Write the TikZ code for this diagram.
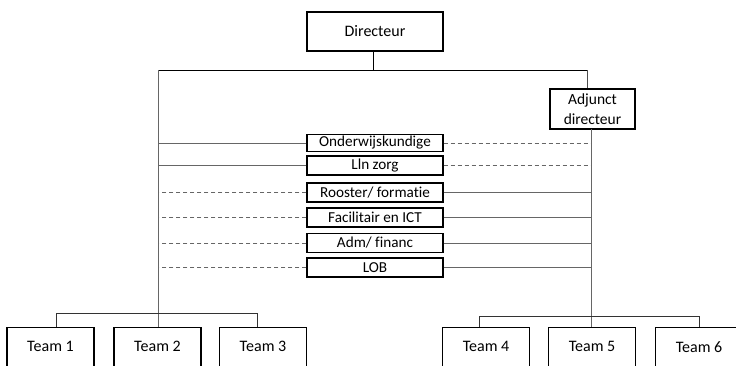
\documentclass[tikz,border=0pt]{standalone}
\usepackage{fontspec}
\setmainfont[Ligatures=NoCommon]{Carlito}
\begin{document}
\begin{tikzpicture}[x=1pt,y=-1pt,
  box/.style={draw=black,line width=1.4pt,inner sep=0pt,align=center,font=\fontsize{16}{20}\selectfont},
  mid/.style={box,minimum width=136pt,font=\fontsize{15.2}{18}\selectfont},
  team/.style={box,minimum width=87pt,minimum height=50pt,text depth=0pt},
  conn/.style={draw=black!60,line width=0.9pt},
  dconn/.style={conn,dash pattern=on 4pt off 3pt}]
\useasboundingbox (0,0) rectangle (736,365);
\clip (0,0) rectangle (736,365);
\node[box,minimum width=136pt,minimum height=39pt] (dir) at (375,31.5) {Directeur};
\node[box,minimum width=85pt,minimum height=40pt,font=\fontsize{15.5}{20}\selectfont] (adj) at (592.5,109) {Adjunct\\directeur};
\node[mid,minimum height=17pt] (m1) at (375,143) {Onderwijskundige};
\node[mid,minimum height=19pt] (m2) at (375,165.5) {Lln zorg};
\node[mid,minimum height=19pt] (m3) at (375,192.5) {Rooster/ formatie};
\node[mid,minimum height=19pt] (m4) at (375,217.5) {Facilitair en ICT};
\node[mid,minimum height=19pt] (m5) at (375,243) {Adm/ financ};
\node[mid,minimum height=19pt] (m6) at (375,267.5) {LOB};
\node[team,anchor=north] (t1) at (50.5,327) {\raisebox{12pt}{Team 1}};
\node[team,anchor=north] (t2) at (157.5,327) {\raisebox{12pt}{Team 2}};
\node[team,anchor=north] (t3) at (263,327) {\raisebox{12pt}{Team 3}};
\node[team,anchor=north] (t4) at (486,327) {\raisebox{12pt}{Team 4}};
\node[team,anchor=north] (t5) at (592,327) {\raisebox{12pt}{Team 5}};
\node[team,anchor=north] (t6) at (699,327) {\raisebox{12pt}{Team 6}};
\coordinate (L) at (158,70);
\coordinate (R) at (587,70);
\coordinate (A) at (591,129);
\coordinate (lb1) at (56,313);
\coordinate (lb3) at (257,313);
\coordinate (rb4) at (479,316);
\coordinate (rb6) at (699,316);
% top
\draw[black,line width=0.8pt] (dir.south -| 373,0) -- (373,70);
\draw[black,line width=0.8pt] (L) -- (R);
\draw[black!70,line width=0.9pt] (R) -- (R |- adj.north);
\draw[black!60,line width=1pt] (L) -- (L |- t2.north);
\draw[black!60,line width=1pt] (A) -- (A |- t5.north);
% brackets
\draw[black!80,line width=0.8pt] (lb1 |- t1.north) -- (lb1) -- (lb3) -- (lb3 |- t3.north);
\draw[black!80,line width=0.8pt] (rb4 |- t4.north) -- (rb4) -- (rb6) -- (rb6 |- t6.north);
% left connectors
\draw[conn] (m1.west) -- (m1.west -| L);
\draw[conn] (m2.west) -- (m2.west -| L);
\draw[dconn] (m3.west) -- (m3.west -| L);
\draw[dconn] (m4.west) -- (m4.west -| L);
\draw[dconn] (m5.west) -- (m5.west -| L);
\draw[dconn] (m6.west) -- (m6.west -| L);
% right connectors
\draw[dconn] (m1.east) -- (m1.east -| A);
\draw[dconn] (m2.east) -- (m2.east -| A);
\draw[conn] (m3.east) -- (m3.east -| A);
\draw[conn] (m4.east) -- (m4.east -| A);
\draw[conn] (m5.east) -- (m5.east -| A);
\draw[conn] (m6.east) -- (m6.east -| A);
\end{tikzpicture}
\end{document}
